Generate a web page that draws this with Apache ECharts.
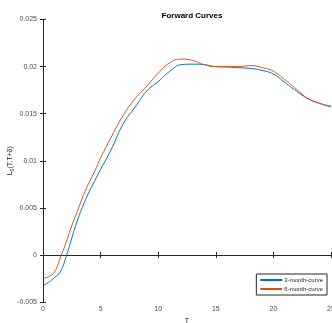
<!DOCTYPE html>
<html>
<head>
<meta charset="utf-8">
<script src="https://cdn.jsdelivr.net/npm/echarts@6/dist/echarts.min.js"></script>
<style>
  html, body { margin: 0; padding: 0; background: #fff; }
  #chart { width: 332px; height: 323px; }
</style>
</head>
<body>
<div id="chart"></div>
<script>
// maturity T (years)
var tValues = [0, 0.5, 1, 1.5, 2, 2.5, 3, 3.5, 4, 4.5, 5, 5.5, 6, 7, 8, 9, 10, 11, 12, 13, 14, 15, 16, 17, 18, 19, 20, 21, 22, 23, 24, 25];
var curve3m = [-0.00325, -0.0029, -0.0024, -0.0018, -0.0002, 0.0018, 0.0037, 0.0053, 0.0067, 0.0079, 0.0091, 0.0102, 0.0114, 0.0140, 0.0157, 0.0174, 0.0184, 0.0195, 0.0202, 0.02026, 0.0202, 0.0200, 0.01995, 0.01988, 0.0198, 0.0196, 0.0192, 0.0183, 0.0174, 0.0166, 0.0161, 0.0157];
var curve6m = [-0.0025, -0.0023, -0.0018, -0.0003, 0.0013, 0.0031, 0.0047, 0.0063, 0.0077, 0.0089, 0.0103, 0.0115, 0.0127, 0.0149, 0.0166, 0.0179, 0.0193, 0.0204, 0.0208, 0.02065, 0.0202, 0.0200, 0.0200, 0.0200, 0.0201, 0.0199, 0.0195, 0.0186, 0.0176, 0.0166, 0.0161, 0.0158];
var seriesNames = ["3-month-curve", "6-month-curve"];

function pairs(ys) {
  return tValues.map(function (t, i) { return [t, ys[i]]; });
}

var axisColor = "#262626";
var labelStyle = { color: "#4d4d4d", fontSize: 7, fontFamily: "Liberation Sans" };

var chart = echarts.init(document.getElementById("chart"));
var option = {
  animation: false,
  title: {
    text: "Forward Curves",
    left: 187,
    textAlign: "center",
    top: 7,
    textStyle: { fontSize: 8, fontWeight: "bold", color: "#000", fontFamily: "Liberation Sans" }
  },
  grid: { left: 43, right: 1, top: 19.5, bottom: 21, containLabel: false, outerBoundsMode: "none" },
  legend: {
    orient: "vertical",
    right: 5,
    bottom: 28,
    itemWidth: 22,
    itemHeight: 2,
    itemGap: 3,
    padding: [3, 4, 3, 4],
    borderColor: "#262626",
    borderWidth: 1,
    backgroundColor: "#fff",
    icon: "rect",
    textStyle: { fontSize: 6, color: "#262626", fontFamily: "Liberation Sans", padding: [0, 0, 0, -3] },
    data: seriesNames
  },
  xAxis: [{
    type: "value",
    min: 0, max: 25, interval: 5,
    name: "T",
    nameLocation: "middle",
    nameGap: 16,
    nameMoveOverlap: false,
    nameTextStyle: { fontSize: 7, color: "#262626" },
    axisLine: { lineStyle: { color: axisColor } },
    axisTick: { inside: true, length: 3, lineStyle: { color: axisColor } },
    axisLabel: Object.assign({ margin: 4 }, labelStyle),
    splitLine: { show: false }
  }, {
    type: "value",
    position: "top",
    min: 0, max: 25, interval: 5,
    axisLine: { show: true, lineStyle: { color: axisColor } },
    axisTick: { inside: true, length: 3, lineStyle: { color: axisColor } },
    axisLabel: { show: false },
    splitLine: { show: false }
  }],
  yAxis: [{
    type: "value",
    min: -0.005, max: 0.025, interval: 0.005,
    name: "{a|L}{s|0}{a|(T,T+δ)}",
    nameLocation: "middle",
    nameGap: 28,
    nameMoveOverlap: false,
    nameTextStyle: {
      rich: {
        a: { fontSize: 7, color: "#262626" },
        s: { fontSize: 5, color: "#262626", verticalAlign: "bottom", padding: [4, 0, 0, 0] }
      }
    },
    axisLine: { show: true, lineStyle: { color: axisColor } },
    axisTick: { show: true, inside: true, length: 3, lineStyle: { color: axisColor } },
    axisLabel: Object.assign({
      margin: 6,
      formatter: function (v) { return String(+v.toFixed(3)); }
    }, labelStyle),
    splitLine: { show: false }
  }, {
    type: "value",
    position: "right",
    min: -0.005, max: 0.025, interval: 0.005,
    axisLine: { show: true, lineStyle: { color: axisColor } },
    axisTick: { show: true, inside: true, length: 3, lineStyle: { color: axisColor } },
    axisLabel: { show: false },
    splitLine: { show: false }
  }],
  series: [{
    name: seriesNames[0],
    type: "line",
    data: pairs(curve3m),
    smooth: 0.5,
    showSymbol: false,
    color: "#0072BD",
    lineStyle: { width: 1 }
  }, {
    name: seriesNames[1],
    type: "line",
    data: pairs(curve6m),
    smooth: 0.5,
    showSymbol: false,
    color: "#D95319",
    lineStyle: { width: 1 }
  }]
};
chart.setOption(option);
</script>
</body>
</html>
